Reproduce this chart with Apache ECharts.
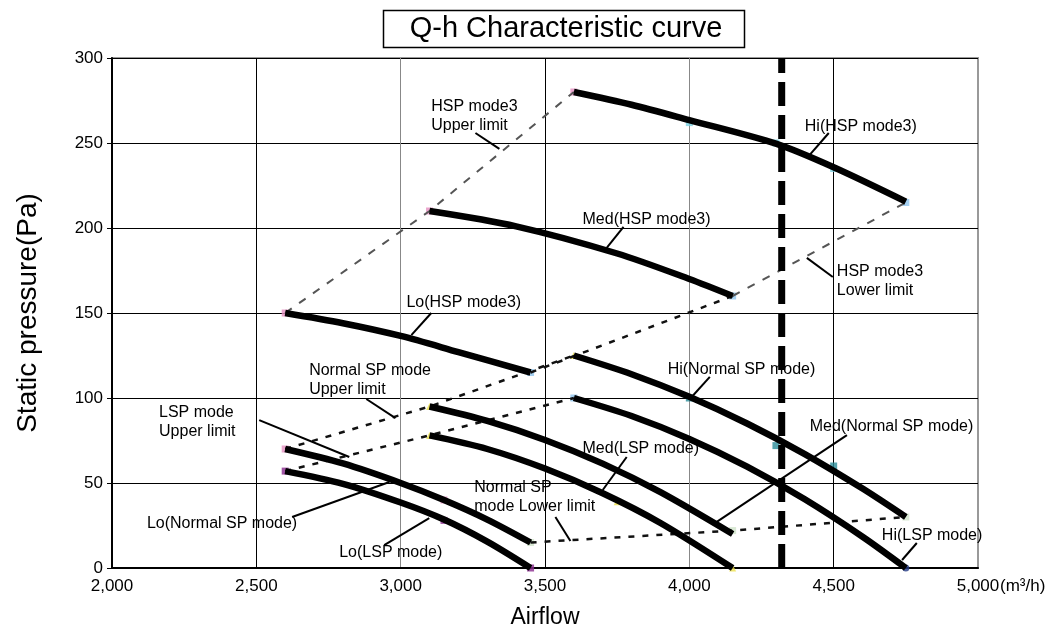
<!DOCTYPE html>
<html>
<head>
<meta charset="utf-8">
<title>Q-h Characteristic curve</title>
<script src="https://cdn.jsdelivr.net/npm/echarts@6/dist/echarts.min.js"></script>
<style>
  html, body { margin: 0; padding: 0; background: #fff; }
  #main { width: 1052px; height: 639px; }
</style>
</head>
<body>
<div id="main"></div>
<script>
// ---- data (airflow m3/h, static pressure Pa) ----
var xTicks = [2000, 2500, 3000, 3500, 4000, 4500, 5000]
var yTicks = [0, 50, 100, 150, 200, 250, 300]

// fan curves
var hiHsp = [[3600, 280], [3800, 272.5], [4000, 263.5], [4300, 249.6], [4500, 235.7], [4750, 215.5]]
var medHsp = [[3100, 210], [3400, 201], [3750, 185], [4000, 170], [4150, 160]]
var loHsp = [[2600, 150], [2800, 144], [3000, 136.5], [3200, 127], [3450, 115]]
var hiNormal = [[3600, 125], [3800, 114], [4000, 100.7], [4200, 85], [4400, 67], [4600, 46.7], [4750, 30]]
var medNormal = [[3100, 95], [3300, 86.5], [3500, 75.3], [3700, 61.4], [3900, 44.6], [4150, 20]]
var loNormal = [[2600, 70], [2800, 61.5], [3000, 50], [3150, 40], [3300, 28.5], [3450, 15]]
var hiLsp = [[3600, 100], [3800, 89.4], [4000, 75.9], [4200, 59.6], [4400, 40.4], [4600, 18.4], [4750, 0]]
var medLsp = [[3100, 78], [3300, 70], [3500, 58.5], [3700, 44], [3900, 26.5], [4150, 0]]
var loLsp = [[2600, 57], [2800, 49.5], [3000, 38.5], [3150, 28.5], [3300, 15.5], [3450, 0]]

// limit lines
var hspUpper = [[2600, 150], [3100, 210], [3600, 280]]
var hspLower = [[3450, 115], [4150, 160], [4750, 215]]
var normalUpper = [[2600, 70], [3100, 95], [3600, 125]]
var normalLower = [[3450, 15], [4150, 22], [4750, 30]]
var lspUpper = [[2600, 57], [3100, 78], [3600, 100]]

// rated airflow (thick dashed vertical)
var ratedAirflow = 4320

// measured points (small coloured markers)
var pinkMarks = [[2600, 150], [3100, 210], [3600, 280], [2600, 70], [3150, 40]]
var blueMarks = [[3450, 115], [4150, 160], [4750, 215], [3600, 100]]
var cyanMarks = [[4000, 262], [4300, 250], [4500, 235]]
var yellowMarks = [[3100, 95], [3100, 78], [3600, 125], [3750, 39], [4150, 0]]
var purpleMarks = [[2600, 57], [3150, 28], [3450, 0]]
var greenMarks = [[3450, 15], [4150, 22], [4750, 30]]
var tealMarks = [[4000, 100], [4300, 72], [4500, 60]]
var navyMarks = [[4750, 0]]

// annotation texts with leader lines (data coordinates)
var notes = [
  { text: 'HSP mode3\nUpper limit', at: [3106, 265.6], leader: [[3259, 255.9], [3342, 246.5]] },
  { text: 'Hi(HSP mode3)', at: [4400, 259.4], leader: [[4483, 255.9], [4414, 242.4]] },
  { text: 'Med(HSP mode3)', at: [3630, 204.7], leader: [[3772, 200.6], [3713, 188.2]] },
  { text: 'Lo(HSP mode3)', at: [3020, 155.9], leader: [[3106, 150], [3037, 137]] },
  { text: 'Normal SP mode\nUpper limit', at: [2683, 110.6], leader: [[2881, 99.4], [2982, 88.2]] },
  { text: 'LSP mode\nUpper limit', at: [2163, 85.9], leader: [[2510, 87], [2822, 65.3]] },
  { text: 'Lo(Normal SP mode)', at: [2121, 25.9], leader: [[2624, 30], [2961, 50.6]] },
  { text: 'Lo(LSP mode)', at: [2787, 8.8], leader: [[2943, 13.5], [3099, 29.4]] },
  { text: 'Normal SP\nmode Lower limit', at: [3255, 42], leader: [[3536, 30], [3588, 15.9]] },
  { text: 'Med(LSP mode)', at: [3630, 70], leader: [[3783, 65.3], [3700, 45.9]] },
  { text: 'Hi(Normal SP mode)', at: [3925, 116.5], leader: [[4071, 112.4], [4008, 100.6]] },
  { text: 'HSP mode3\nLower limit', at: [4511, 168.5], leader: [[4497, 171.2], [4407, 182.4]] },
  { text: 'Med(Normal SP mode)', at: [4417, 82.9], leader: [[4546, 78.2], [4095, 27.1]] },
  { text: 'Hi(LSP mode)', at: [4667, 18.8], leader: [[4788, 14.7], [4737, 4.7]] }
]

var FONT = "'Liberation Sans', Arial, sans-serif"

function curve (data) {
  return {
    type: 'line',
    data: data,
    smooth: 0.3,
    showSymbol: false,
    silent: true,
    z: 4,
    lineStyle: { color: '#000', width: 6.5, cap: 'butt' }
  }
}

function limit (data, color, dash, width) {
  return {
    type: 'line',
    data: data,
    showSymbol: false,
    silent: true,
    z: 3,
    lineStyle: { color: color, width: width, type: dash }
  }
}

function marks (data, color, symbol) {
  return {
    type: 'scatter',
    data: data,
    symbol: symbol,
    symbolSize: 7,
    silent: true,
    z: 2,
    itemStyle: { color: color }
  }
}

var chart = echarts.init(document.getElementById('main'), null, { renderer: 'canvas' })

var option = {
  backgroundColor: '#fff',
  animation: false,
  textStyle: { fontFamily: FONT },
  title: {
    text: 'Q-h Characteristic curve',
    left: 561,
    top: 9,
    textAlign: 'center',
    textStyle: { fontFamily: FONT, fontSize: 29, fontWeight: 'normal', color: '#000' }
  },
  graphic: [
    {
      type: 'rect',
      left: 381,
      top: 8,
      shape: { width: 361, height: 37 },
      style: { fill: 'none', stroke: '#000', lineWidth: 1.5 }
    },
    {
      type: 'text',
      left: 1000,
      top: 578,
      style: { text: '(m³/h)', fontSize: 17, fontFamily: FONT, fill: '#000' }
    }
  ],
  grid: {
    left: 112,
    right: 74,
    top: 58,
    bottom: 71,
    show: true,
    borderColor: '#999',
    borderWidth: 2
  },
  xAxis: {
    type: 'value',
    min: xTicks[0],
    max: xTicks[xTicks.length - 1],
    interval: 500,
    name: 'Airflow',
    nameLocation: 'middle',
    nameGap: 38,
    nameTextStyle: { fontSize: 23, color: '#000', fontFamily: FONT },
    axisLine: { lineStyle: { color: '#000', width: 2 } },
    axisTick: { show: false },
    axisLabel: {
      fontSize: 17,
      color: '#000',
      margin: 10,
      formatter: function (v) { return v.toLocaleString('en-US') }
    },
    splitLine: {
      lineStyle: { color: ['#000', '#000', '#888', '#000', '#888', '#000', '#999'], width: 1 }
    }
  },
  yAxis: {
    type: 'value',
    min: yTicks[0],
    max: yTicks[yTicks.length - 1],
    interval: 50,
    name: 'Static pressure(Pa)',
    nameLocation: 'middle',
    nameGap: 70,
    nameTextStyle: { fontSize: 28, color: '#000', fontFamily: FONT },
    axisLine: { show: true, lineStyle: { color: '#000', width: 2 } },
    axisTick: { show: true, length: 5, lineStyle: { color: '#000' } },
    axisLabel: { fontSize: 17, color: '#000', margin: 9 },
    splitLine: { lineStyle: { color: '#000', width: 1 } }
  },
  series: [
    marks(pinkMarks, '#e58fc0', 'rect'),
    marks(blueMarks, '#8fc4ee', 'rect'),
    marks(cyanMarks, '#79cfe0', 'rect'),
    marks(yellowMarks, '#ece04a', 'triangle'),
    marks(purpleMarks, '#8a2a8e', 'rect'),
    marks(greenMarks, '#cfe3c9', 'rect'),
    marks(tealMarks, '#2b8c99', 'rect'),
    marks(navyMarks, '#233a84', 'circle'),

    limit(hspUpper, '#555', [8, 9], 2),
    limit(hspLower.slice(0, 2), '#111', [6, 8], 2.5),
    limit(hspLower.slice(1), '#555', [8, 9], 2),
    limit(normalUpper, '#111', [6, 8], 2.5),
    limit(normalLower, '#111', [6, 8], 2.5),
    limit(lspUpper, '#111', [6, 8], 2.5),

    curve(hiHsp), curve(medHsp), curve(loHsp),
    curve(hiNormal), curve(medNormal), curve(loNormal),
    curve(hiLsp), curve(medLsp), curve(loLsp),

    {
      type: 'line',
      data: [[ratedAirflow, yTicks[0]], [ratedAirflow, yTicks[yTicks.length - 1]]],
      showSymbol: false,
      silent: true,
      z: 6,
      lineStyle: { color: '#000', width: 7, type: [24, 9] }
    },
    {
      type: 'lines',
      coordinateSystem: 'cartesian2d',
      silent: true,
      z: 7,
      data: notes.map(function (n) { return { coords: n.leader } }),
      lineStyle: { color: '#000', width: 2, opacity: 1 }
    },
    {
      type: 'scatter',
      symbolSize: 0,
      silent: true,
      z: 8,
      data: notes.map(function (n) { return { value: n.at, name: n.text } }),
      label: {
        show: true,
        position: 'right',
        distance: 0,
        formatter: '{b}',
        fontFamily: FONT,
        fontSize: 16,
        lineHeight: 19,
        color: '#000',
        opacity: 1
      }
    }
  ]
}

chart.setOption(option)
</script>
</body>
</html>
